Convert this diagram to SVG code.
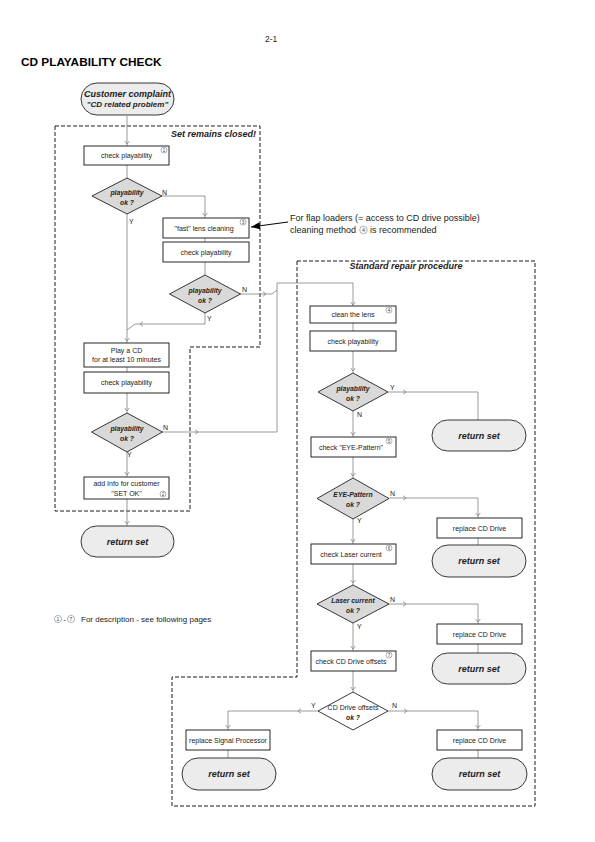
<svg xmlns="http://www.w3.org/2000/svg" xmlns:xlink="http://www.w3.org/1999/xlink" width="595" height="842" viewBox="0 0 595 842">
<style>
.box{fill:#fff;stroke:#111;stroke-width:0.9}
.dia{fill:#d9d9d9;stroke:#222;stroke-width:0.9}
.diaw{fill:#fff;stroke:#222;stroke-width:0.9}
.pill{fill:#ececec;stroke:#222;stroke-width:0.9}
.ln{fill:none;stroke:#808080;stroke-width:0.8}
.dash{fill:none;stroke:#000;stroke-width:0.9;stroke-dasharray:4 2}
text{font-family:"Liberation Sans",Arial,sans-serif;fill:#222}
.t{font-size:7px;text-anchor:middle}
.dt{font-size:6.8px;font-weight:bold;font-style:italic;text-anchor:middle}
.pt{font-size:9px;font-weight:bold;font-style:italic;text-anchor:middle}
.yn{font-size:7px}
.cn{fill:#fff;stroke:#666;stroke-width:0.5}
.cd{font-size:4.6px;text-anchor:middle;fill:#444}
</style>
<defs>
<path id="chev" d="M-2.3,-3 L0,0 L2.3,-3" fill="none" stroke="#808080" stroke-width="0.8"/>
<marker id="ah" markerWidth="10" markerHeight="8" refX="9" refY="4" orient="auto" markerUnits="userSpaceOnUse">
<path d="M0,0.5 L9,4 L0,7.5 Z" fill="#000"/>
</marker>
</defs>

<text x="265" y="42" style="font-size:8.5px">2-1</text>
<text x="21" y="66" style="font-size:11.8px;font-weight:bold;fill:#000">CD PLAYABILITY CHECK</text>

<g id="regions">
<path class="dash" d="M55,126 H260 V347 H190 V511 H55 Z"/>
<text x="256" y="137" style="font-size:9px;font-weight:bold;font-style:italic;text-anchor:end">Set remains closed!</text>
<path class="dash" d="M297,261 H535 V806 H172 V677 H297 Z"/>
<text x="406" y="269" style="font-size:9px;font-weight:bold;font-style:italic;text-anchor:middle">Standard repair procedure</text>
</g>

<g id="connectors">
<path class="ln" d="M127,116 V146"/>
<use href="#chev" x="127" y="144"/>
<path class="ln" d="M127,165 V178"/>
<path class="ln" d="M162,196 H205 V218"/>
<use href="#chev" x="205" y="216"/>
<path class="ln" d="M127,214 V343"/>
<use href="#chev" x="127" y="341"/>
<path class="ln" d="M205,238 V242"/>
<path class="ln" d="M205,262 V275"/>
<path class="ln" d="M205,313 V324 H135 L127,330"/>
<use href="#chev" transform="translate(140,324) rotate(90)"/>
<path class="ln" d="M240,294 H272 L277,290"/>
<use href="#chev" transform="translate(266,294) rotate(-90)"/>
<path class="ln" d="M277,432 V283 H353 V307"/>
<use href="#chev" x="353" y="305"/>
<path class="ln" d="M127,367 V372"/>
<path class="ln" d="M127,393 V413"/>
<use href="#chev" x="127" y="411"/>
<path class="ln" d="M162,432 H277"/>
<use href="#chev" transform="translate(198,432) rotate(-90)"/>
<path class="ln" d="M127,452 V477"/>
<use href="#chev" x="127" y="475"/>
<path class="ln" d="M127,499 V526"/>
<use href="#chev" x="127" y="524"/>

<path class="ln" d="M353,323 V331"/>
<path class="ln" d="M353,351 V373"/>
<use href="#chev" x="353" y="371"/>
<path class="ln" d="M388,392 H478 V420"/>
<use href="#chev" transform="translate(406,392) rotate(-90)"/>
<path class="ln" d="M353,411 V437"/>
<use href="#chev" x="353" y="435"/>
<path class="ln" d="M353,457 V478"/>
<use href="#chev" x="353" y="476"/>
<path class="ln" d="M389,498 H478 V518"/>
<use href="#chev" transform="translate(406,498) rotate(-90)"/>
<use href="#chev" x="478" y="516"/>
<path class="ln" d="M478,538 V545"/>
<path class="ln" d="M353,519 V544"/>
<use href="#chev" x="353" y="542"/>
<path class="ln" d="M353,564 V585"/>
<use href="#chev" x="353" y="583"/>
<path class="ln" d="M389,604 H478 V624"/>
<use href="#chev" transform="translate(406,604) rotate(-90)"/>
<use href="#chev" x="478" y="622"/>
<path class="ln" d="M478,644 V653"/>
<path class="ln" d="M353,623 V651"/>
<use href="#chev" x="353" y="649"/>
<path class="ln" d="M353,671 V692"/>
<use href="#chev" x="353" y="690"/>
<path class="ln" d="M318,711 H228 V730"/>
<use href="#chev" transform="translate(298,711) rotate(90)"/>
<use href="#chev" x="228" y="728"/>
<path class="ln" d="M388,711 H478 V730"/>
<use href="#chev" transform="translate(407,711) rotate(-90)"/>
<use href="#chev" x="478" y="728"/>
<path class="ln" d="M228,750 V758"/>
<path class="ln" d="M478,750 V758"/>

<path d="M288,222 L251,227" stroke="#000" stroke-width="1" fill="none" marker-end="url(#ah)"/>
</g>

<g id="labels">
<text class="yn" x="162" y="195">N</text>
<text class="yn" x="129" y="224">Y</text>
<text class="yn" x="242" y="292">N</text>
<text class="yn" x="207" y="321">Y</text>
<text class="yn" x="163" y="430">N</text>
<text class="yn" x="127" y="457">Y</text>
<text class="yn" x="390" y="390">Y</text>
<text class="yn" x="357" y="417">N</text>
<text class="yn" x="390" y="496">N</text>
<text class="yn" x="357" y="523">Y</text>
<text class="yn" x="390" y="602">N</text>
<text class="yn" x="357" y="629">Y</text>
<text class="yn" x="311" y="708">Y</text>
<text class="yn" x="392" y="708">N</text>
</g>

<g id="start">
<rect class="pill" x="81" y="83" width="93" height="32" rx="16"/>
<text class="pt" x="127.5" y="97">Customer complaint</text>
<text class="pt" x="127.5" y="107" style="font-size:8px">"CD related problem"</text>
</g>

<g id="check1">
<rect class="box" x="84" y="146" width="85" height="19"/>
<text class="t" x="126.5" y="158">check playability</text>
<circle class="cn" cx="164" cy="150" r="3"/><text class="cd" x="164" y="151.7">1</text>
</g>

<g id="dec1">
<path class="dia" d="M127,178 L162,196 L127,214 L92,196 Z"/>
<text class="dt" x="127" y="195">playability</text>
<text class="dt" x="127" y="205">ok ?</text>
</g>

<g id="fastclean">
<rect class="box" x="163" y="218" width="86" height="20"/>
<text class="t" x="204" y="230.5">"fast" lens cleaning</text>
<circle class="cn" cx="243" cy="222" r="3"/><text class="cd" x="243" y="223.7">3</text>
</g>

<g id="check2">
<rect class="box" x="163" y="242" width="86" height="20"/>
<text class="t" x="206" y="254.5">check playability</text>
</g>

<g id="dec2">
<path class="dia" d="M205,275 L240.5,294 L205,313 L169.5,294 Z"/>
<text class="dt" x="205" y="293">playability</text>
<text class="dt" x="205" y="303">ok ?</text>
</g>

<g id="note">
<text x="290" y="221" style="font-size:9px">For flap loaders (= access to CD drive possible)</text>
<text x="290" y="233" style="font-size:9px">cleaning method</text>
<circle class="cn" cx="363.5" cy="230" r="3.8"/><text class="cd" x="363.5" y="232" style="font-size:5.5px">4</text>
<text x="370" y="233" style="font-size:9px">is recommended</text>
</g>

<g id="playcd">
<rect class="box" x="84" y="343" width="85" height="24"/>
<text class="t" x="126.5" y="353">Play a CD</text>
<text class="t" x="126.5" y="362">for at least 10 minutes</text>
</g>

<g id="check3">
<rect class="box" x="84" y="372" width="85" height="21"/>
<text class="t" x="126.5" y="385">check playability</text>
</g>

<g id="dec3">
<path class="dia" d="M127,413 L162.5,432 L127,452 L91.5,432 Z"/>
<text class="dt" x="127" y="431">playability</text>
<text class="dt" x="127" y="441">ok ?</text>
</g>

<g id="addinfo">
<rect class="box" x="84" y="477" width="85" height="22"/>
<text class="t" x="126.5" y="486">add Info for customer</text>
<text class="t" x="126.5" y="496">"SET OK"</text>
<circle class="cn" cx="163" cy="494" r="3"/><text class="cd" x="163" y="495.7">2</text>
</g>

<g id="return1">
<rect class="pill" x="81" y="526" width="93" height="31" rx="15.5"/>
<text class="pt" x="127.5" y="544.5">return set</text>
</g>

<g id="clean">
<rect class="box" x="310" y="306" width="86" height="17"/>
<text class="t" x="353" y="317">clean the lens</text>
<circle class="cn" cx="389" cy="310" r="3"/><text class="cd" x="389" y="311.7">4</text>
</g>

<g id="check4">
<rect class="box" x="310" y="331" width="86" height="20"/>
<text class="t" x="353" y="343.5">check playability</text>
</g>

<g id="dec4">
<path class="dia" d="M353,373 L388,392 L353,411 L318,392 Z"/>
<text class="dt" x="353" y="391">playability</text>
<text class="dt" x="353" y="401">ok ?</text>
</g>

<g id="return2">
<rect class="pill" x="432" y="420" width="94" height="31" rx="15.5"/>
<text class="pt" x="479" y="438.5">return set</text>
</g>

<g id="eye">
<rect class="box" x="311" y="437" width="85" height="20"/>
<text class="t" x="351" y="449.5">check "EYE-Pattern"</text>
<circle class="cn" cx="389" cy="441" r="3"/><text class="cd" x="389" y="442.7">5</text>
</g>

<g id="dec5">
<path class="dia" d="M353,478 L389,498.5 L353,519 L317,498.5 Z"/>
<text class="dt" x="353" y="497">EYE-Pattern</text>
<text class="dt" x="353" y="507">ok ?</text>
</g>

<g id="replace1">
<rect class="box" x="437" y="518" width="85" height="20"/>
<text class="t" x="479.5" y="530.5">replace CD Drive</text>
</g>

<g id="return3">
<rect class="pill" x="432" y="545" width="94" height="32" rx="16"/>
<text class="pt" x="479" y="564">return set</text>
</g>

<g id="laser">
<rect class="box" x="311" y="544" width="85" height="20"/>
<text class="t" x="351" y="556.5">check Laser current</text>
<circle class="cn" cx="389" cy="548" r="3"/><text class="cd" x="389" y="549.7">6</text>
</g>

<g id="dec6">
<path class="dia" d="M353,585 L389,604 L353,623 L317,604 Z"/>
<text class="dt" x="353" y="603">Laser current</text>
<text class="dt" x="353" y="613">ok ?</text>
</g>

<g id="replace2">
<rect class="box" x="437" y="624" width="85" height="20"/>
<text class="t" x="479.5" y="636.5">replace CD Drive</text>
</g>

<g id="return4">
<rect class="pill" x="432" y="653" width="94" height="31" rx="15.5"/>
<text class="pt" x="479" y="671.5">return set</text>
</g>

<g id="offsets">
<rect class="box" x="311" y="651" width="85" height="20"/>
<text class="t" x="351" y="663.5">check CD Drive offsets</text>
<circle class="cn" cx="389" cy="655" r="3"/><text class="cd" x="389" y="656.7">7</text>
</g>

<g id="dec7">
<path class="diaw" d="M353,692 L388,711 L353,730 L318,711 Z"/>
<text class="t" x="353" y="710">CD Drive offsets</text>
<text class="dt" x="353" y="720">ok ?</text>
</g>

<g id="signal">
<rect class="box" x="186" y="730" width="84" height="20"/>
<text class="t" x="228" y="742.5">replace Signal Processor</text>
</g>

<g id="replace3">
<rect class="box" x="437" y="730" width="85" height="20"/>
<text class="t" x="479.5" y="742.5">replace CD Drive</text>
</g>

<g id="return5">
<rect class="pill" x="182" y="758" width="94" height="32" rx="16"/>
<text class="pt" x="229" y="777">return set</text>
</g>

<g id="return6">
<rect class="pill" x="432" y="758" width="95" height="32" rx="16"/>
<text class="pt" x="479.5" y="777">return set</text>
</g>

<g id="legend">
<circle class="cn" cx="58" cy="619" r="3.6"/><text class="cd" x="58" y="620.8" style="font-size:5px">1</text>
<text x="64.5" y="622" style="font-size:8px;text-anchor:middle">-</text>
<circle class="cn" cx="71" cy="619" r="3.6"/><text class="cd" x="71" y="620.8" style="font-size:5px">7</text>
<text x="81" y="622" style="font-size:8px">For description - see following pages</text>
</g>
</svg>
